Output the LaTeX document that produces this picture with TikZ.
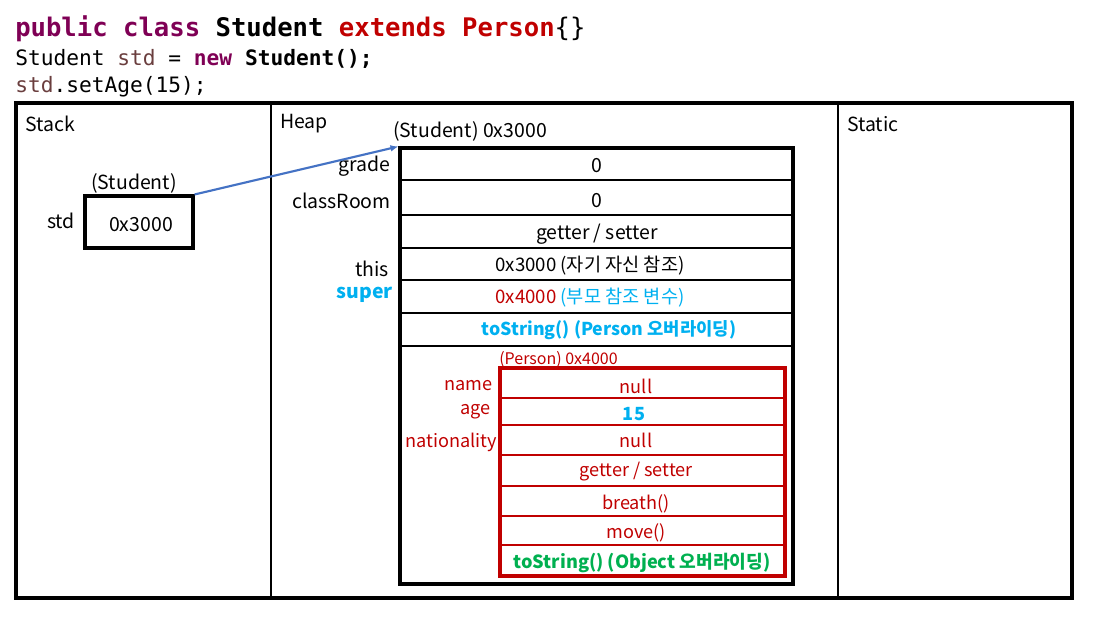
\documentclass[tikz,border=0pt]{standalone}
\usepackage{fontspec}
\usetikzlibrary{arrows.meta}
\setmainfont{Noto Sans CJK KR}
\newfontfamily\codefont{DejaVu Sans Mono}
\definecolor{kw}{HTML}{7F0055}
\definecolor{jred}{HTML}{C00000}
\definecolor{var}{HTML}{6A3E3E}
\definecolor{sky}{HTML}{00B0F0}
\definecolor{grn}{HTML}{00B050}
\definecolor{arr}{HTML}{4472C4}
\tikzset{
  big/.style={inner sep=0pt, yshift=-1.5pt, font=\fontsize{14.6}{17}\selectfont},
  mid/.style={inner sep=0pt, yshift=-1.2pt, font=\fontsize{14}{16}\selectfont},
  sml/.style={inner sep=0pt, yshift=-1.2pt, font=\fontsize{13.6}{15}\selectfont},
  tiny/.style={inner sep=0pt, yshift=-1pt, font=\fontsize{12}{14}\selectfont},
  frame/.style={draw=black, line width=2.3pt},
  sep/.style={draw=black, line width=1.6pt},
  rframe/.style={draw=jred, line width=2.3pt},
  rsep/.style={draw=jred, line width=1.5pt},
}
\begin{document}
\begin{tikzpicture}[x=0.75pt,y=-0.75pt]
\useasboundingbox (0,0) rectangle (1103,618);
% code lines
\node[anchor=base west, inner sep=0pt, font=\codefont\fontsize{19.2}{22}\selectfont] (l1) at (15,36)
  {\textbf{\textcolor{kw}{public class} Student \textcolor{jred}{extends Person}}\{\}};
\node[anchor=base west, inner sep=0pt, font=\codefont\fontsize{15.9}{18}\selectfont] (l2) at (15,65)
  {Student \textcolor{var}{std} = \textbf{\textcolor{kw}{new} Student();}};
\node[anchor=base west, inner sep=0pt, font=\codefont\fontsize{15.9}{18}\selectfont] (l3) at (15,92)
  {\textcolor{var}{std}.setAge(15);};
% memory frame
\draw[frame] (16,103) rectangle (1072,598);
\draw[sep] (271,103) -- (271,598);
\draw[sep] (838,103) -- (838,598);
\node[big, anchor=west] (stack) at (25,122) {Stack};
\node[big, anchor=west] (heap) at (280,122) {Heap};
\node[big, anchor=west] (static) at (847,122) {Static};
% stack variable
\node[draw=black, line width=2.3pt, minimum width=81pt, minimum height=39pt, inner sep=0pt] (stdbox) at (139,222) {};
\node[big] (stdval) at (141,223) {0x3000};
\node[big] (stdtype) at (134,181) {(Student)};
\node[big] (stdname) at (61,219) {std};
% student object
\node[frame, minimum width=294.75pt, minimum height=327pt, inner sep=0pt] (obj) at (596.5,366) {};
\draw[sep] (400,180) -- (793,180);
\draw[sep] (400,215) -- (793,215);
\draw[sep] (400,248) -- (793,248);
\draw[sep] (400,280) -- (793,280);
\draw[sep] (400,313) -- (793,313);
\draw[sep] (400,346) -- (793,346);
\node[big, anchor=west] (objtitle) at (393,129) {(Student) 0x3000};
\node[big] (v1) at (597,164) {0};
\node[big] (v2) at (597,199) {0};
\node[big] (v3) at (597,232) {getter / setter};
\node[mid] (v4) at (590,264) {0x3000 (자기 자신 참조)};
\node[mid] (v5) at (590,296) {\textcolor{jred}{0x4000} \textcolor{sky}{(부모 참조 변수)}};
\node[mid, text=sky, font=\fontsize{13.3}{15}\selectfont\bfseries] (v6) at (609,329) {toString() (Person 오버라이딩)};
\node[big, anchor=east] (grade) at (391,164) {grade};
\node[big, anchor=east] (classroom) at (391,199) {classRoom};
\node[big, anchor=east] (this) at (389,267) {this};
\node[big, anchor=east, text=sky, font=\fontsize{14.6}{17}\selectfont\bfseries] (super) at (393,293) {super};
% person object
\node[rframe, minimum width=213.75pt, minimum height=156pt, inner sep=0pt] (per) at (642.5,472) {};
\draw[rsep] (500,398) -- (785,398);
\draw[rsep] (500,425) -- (785,425);
\draw[rsep] (500,455) -- (785,455);
\draw[rsep] (500,486) -- (785,486);
\draw[rsep] (500,516) -- (785,516);
\draw[rsep] (500,545) -- (785,545);
\node[tiny, anchor=west, text=jred] (pertitle) at (499,358) {(Person) 0x4000};
\node[sml, text=jred] (p1) at (636,385) {null};
\node[sml, text=sky, font=\fontsize{13.6}{15}\selectfont\bfseries] (p2) at (634,412) {15};
\node[sml, text=jred] (p3) at (636,439) {null};
\node[sml, text=jred] (p4) at (636,470) {getter / setter};
\node[sml, text=jred] (p5) at (636,502) {breath()};
\node[sml, text=jred] (p6) at (636,531) {move()};
\node[sml, text=grn, font=\fontsize{13.6}{15}\selectfont\bfseries] (p7) at (642,561) {toString() (Object 오버라이딩)};
\node[sml, anchor=east, text=jred] (name) at (493,384) {name};
\node[sml, anchor=east, text=jred] (age) at (491,410) {age};
\node[sml, anchor=east, text=jred] (nat) at (497,441) {nationality};
% reference arrow
\draw[arr, line width=1.6pt, -{Latex[length=6pt,width=5pt]}] (stdbox.north east) -- (obj.north west);
\end{tikzpicture}
\end{document}
